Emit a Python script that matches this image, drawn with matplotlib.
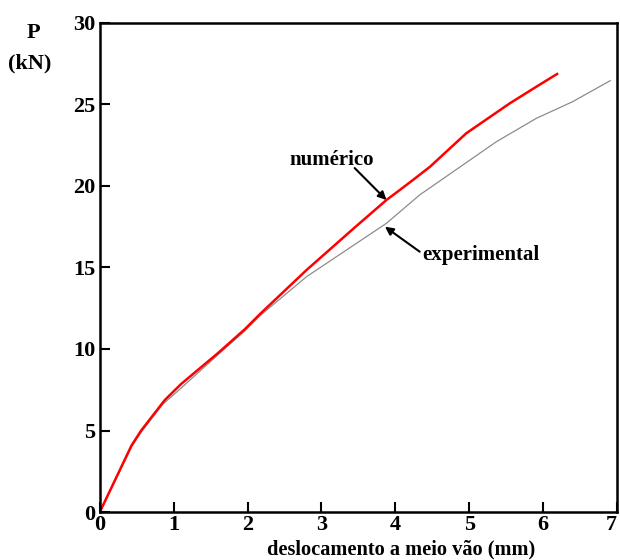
import matplotlib
matplotlib.use('Agg')
import matplotlib.pyplot as plt

# deslocamento (mm) x carga P (kN)
num_x = [0.0, 0.43, 0.56, 0.88, 1.10, 1.60, 1.96, 2.17, 2.80, 3.45, 3.88, 4.06, 4.24, 4.47, 4.96, 5.55, 5.91, 6.19]
num_y = [0.0, 4.09, 5.0, 6.87, 7.85, 9.75, 11.2, 12.15, 14.85, 17.45, 19.14, 19.75, 20.37, 21.18, 23.23, 25.07, 26.09, 26.87]

exp_x = [0.0, 0.43, 0.56, 0.85, 1.10, 1.60, 1.96, 2.17, 2.80, 3.88, 4.33, 5.37, 5.91, 6.40, 6.91]
exp_y = [0.0, 4.0, 4.9, 6.6, 7.6, 9.65, 11.1, 12.05, 14.44, 17.71, 19.45, 22.72, 24.15, 25.17, 26.46]

xticks = [0, 1, 2, 3, 4, 5, 6, 7]
yticks = [0, 5, 10, 15, 20, 25, 30]

plt.rcParams['font.family'] = ['Liberation Serif', 'DejaVu Serif']
plt.rcParams['font.weight'] = 'bold'

fig = plt.figure(figsize=(6.2, 5.6), dpi=100)
ax = fig.add_axes([0.161, 0.0857, 0.834, 0.8733])

ax.plot(exp_x, exp_y, color='#8c8c8c', lw=0.9)
ax.plot(num_x, num_y, color='#ff0000', lw=1.8)

ax.set_xlim(0, 7)
ax.set_ylim(0, 30)
ax.set_xticks(xticks)
ax.set_yticks(yticks)
ax.tick_params(direction='in', length=7, width=1.5, labelsize=16, pad=3)
ax.tick_params(axis='x', pad=2)
for lab in ax.get_xticklabels() + ax.get_yticklabels():
    lab.set_fontweight('bold')
# last x tick label sits right at the figure edge
ax.get_xticklabels()[-1].set_horizontalalignment('right')
for s in ax.spines.values():
    s.set_linewidth(1.8)

fig.text(401 / 620, 1 - 549 / 560, 'deslocamento a meio vão (mm)', ha='center', va='center',
         fontsize=14.7, fontweight='bold')
fig.text(33 / 620, 1 - 33 / 560, 'P', ha='center', va='center', fontsize=16, fontweight='bold')
fig.text(30 / 620, 1 - 63 / 560, '(kN)', ha='center', va='center', fontsize=16, fontweight='bold')

arrow = dict(arrowstyle='-|>', color='black', lw=1.5, mutation_scale=12, shrinkA=0, shrinkB=0)
ax.annotate('', xy=(3.88, 19.14), xytext=(3.45, 21.1), arrowprops=arrow)
ax.text(3.14, 21.6, 'numérico', ha='center', va='center', fontsize=15, fontweight='bold')
ax.annotate('', xy=(3.86, 17.5), xytext=(4.33, 15.97), arrowprops=arrow)
ax.text(4.37, 15.77, 'experimental', ha='left', va='center', fontsize=15, fontweight='bold')

fig.savefig('out.png', dpi=100)
